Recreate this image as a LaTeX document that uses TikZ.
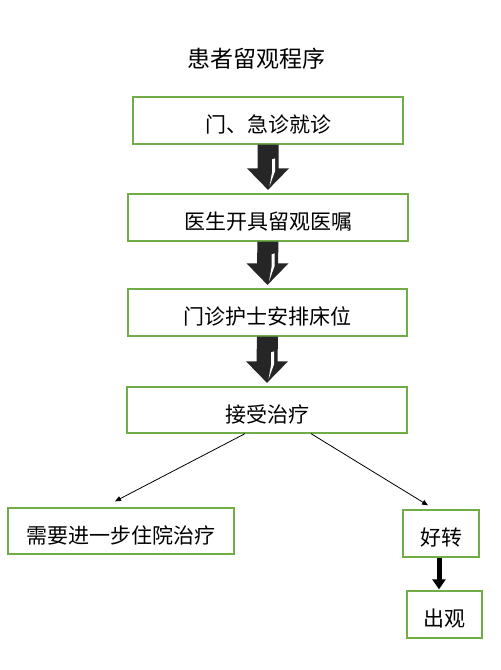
\documentclass[tikz,border=0pt]{standalone}
\usepackage{fontspec}
\setmainfont{Noto Sans CJK SC}
\usetikzlibrary{calc,arrows.meta}
\definecolor{boxgreen}{RGB}{112,173,71}
\definecolor{arrowdark}{RGB}{38,38,38}
\tikzset{
  stepbox/.style={draw=boxgreen, line width=1.3pt, fill=white, inner sep=0pt,
    font=\fontsize{21}{24}\selectfont, text height=24pt, text depth=0pt},
  thinarrow/.style={draw=black, line width=0.8pt, -{Triangle[length=6pt,width=5pt]}},
  smallblock/.style={draw=black, line width=5pt, -{Triangle[length=10pt,width=13pt]}, shorten >=1pt},
}
\newcommand{\blockarrow}[2]{%
  \fill[arrowdark] ($(#1.south)+(-10.5,0)$) -- ($(#1.south)+(10.5,0)$)
     -- ($(#2.north)+(10.5,-25)$) -- ($(#2.north)+(21,-25)$)
     -- ($(#2.north)+(0,-3.5)$) -- ($(#2.north)+(-21,-25)$)
     -- ($(#2.north)+(-10.5,-25)$) -- cycle;
  \fill[white] ($(#2.north)+(4,-34)$) -- ($(#2.north)+(7,-35)$)
     -- ($(#2.north)+(7,-22)$) -- ($(#2.north)+(1.5,-7)$)
     -- ($(#2.north)+(4,-21)$) -- cycle;
}
\begin{document}
\begin{tikzpicture}[x=1pt,y=-1pt]
\useasboundingbox[fill=white] (0,0) rectangle (501,670);
\node[font=\fontsize{23}{26}\selectfont, inner sep=0pt] (title) at (256,59) {患者留观程序};
\node[stepbox, minimum width=270pt, minimum height=47pt] (b1) at (268,120.5) {门、急诊就诊};
\node[stepbox, minimum width=280pt, minimum height=47pt] (b2) at (268,217.5) {医生开具留观医嘱};
\node[stepbox, minimum width=279pt, minimum height=47pt] (b3) at (267.5,312.5) {门诊护士安排床位};
\node[stepbox, minimum width=280pt, minimum height=46pt] (b4) at (267,410) {接受治疗};
\node[stepbox, minimum width=226pt, minimum height=46pt] (b5) at (121,531) {需要进一步住院治疗};
\node[stepbox, minimum width=76pt, minimum height=47pt] (b6) at (441,533.5) {好转};
\node[stepbox, minimum width=75pt, minimum height=47pt] (b7) at (444.5,614.5) {出观};
\blockarrow{b1}{b2}
\blockarrow{b2}{b3}
\blockarrow{b3}{b4}
\draw[thinarrow] ($(b4.south)+(-22,0)$) -- ($(b5.north)+(-6,-6)$);
\draw[thinarrow] ($(b4.south)+(44,0)$) -- ($(b6.north)+(-13,-4)$);
\draw[smallblock] ($(b6.south)+(-2,0)$) -- ($(b7.north)+(-5.5,0)$);
\end{tikzpicture}
\end{document}
